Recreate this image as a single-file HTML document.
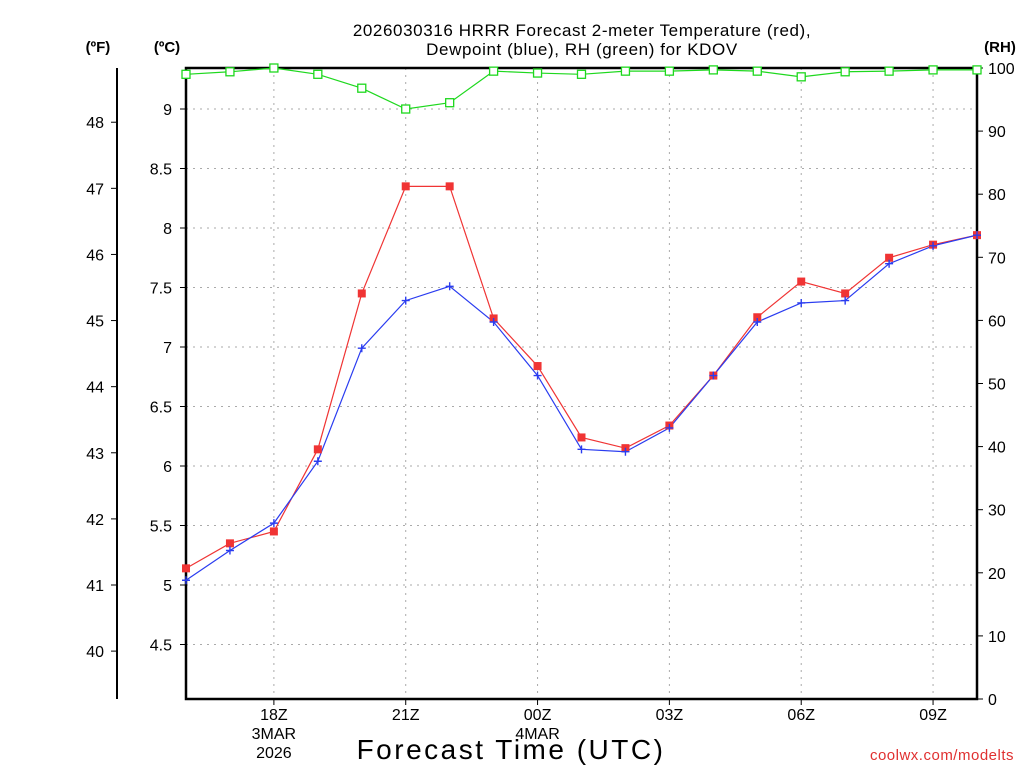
<!DOCTYPE html>
<html><head><meta charset="utf-8"><style>
body{margin:0;background:#fff;}
svg{display:block;font-family:"Liberation Sans",sans-serif;}
</style></head><body>
<svg id="chart" width="1024" height="768" xmlns="http://www.w3.org/2000/svg">
<text x="582" y="36" text-anchor="middle" font-size="17" letter-spacing="0.6" fill="#000">2026030316 HRRR Forecast 2-meter Temperature (red),</text>
<text x="582" y="55" text-anchor="middle" font-size="17" letter-spacing="0.6" fill="#000">Dewpoint (blue), RH (green) for KDOV</text>
<text x="98" y="52" text-anchor="middle" font-size="15" font-weight="bold">(ºF)</text>
<text x="167" y="52" text-anchor="middle" font-size="15" font-weight="bold">(ºC)</text>
<text x="1000" y="52" text-anchor="middle" font-size="15" font-weight="bold">(RH)</text>
<text x="511" y="759" text-anchor="middle" font-size="28" letter-spacing="2.5">Forecast Time (UTC)</text>
<text x="1014" y="760" text-anchor="end" font-size="15" fill="#e03030" letter-spacing="0.5">coolwx.com/modelts</text>
<g id="grid"></g><g id="axes"></g><g id="series"></g>
</svg>
<script>
const hours=["16","17","18","19","20","21","22","23","00","01","02","03","04","05","06","07","08","09","10"];
const temperatureC=[5.14,5.35,5.45,6.14,7.45,8.35,8.35,7.24,6.84,6.24,6.15,6.34,6.76,7.25,7.55,7.45,7.75,7.86,7.94];
const dewpointC=[5.04,5.29,5.52,6.04,6.99,7.39,7.51,7.21,6.76,6.14,6.12,6.32,6.76,7.21,7.37,7.39,7.70,7.85,7.94];
const rhValues=[99.0,99.4,100,99.0,96.8,93.5,94.5,99.5,99.2,99.0,99.5,99.5,99.7,99.5,98.6,99.4,99.5,99.7,99.7];
const cTicks=[4.5,5,5.5,6,6.5,7,7.5,8,8.5,9];
const fTicks=[40,41,42,43,44,45,46,47,48];
const rhTicks=[0,10,20,30,40,50,60,70,80,90,100];
const xTickLabels=[["18Z","3MAR","2026"],["21Z"],["00Z","4MAR"],["03Z"],["06Z"],["09Z"]];
const xTickIdx=[2,5,8,11,14,17];
const L=186,R=977,T=68,B=699;
const xS=i=>L+i*(R-L)/18;
const yC=c=>585-(c-5)*119;
const yF=f=>yC((f-32)/1.8);
const yRH=r=>B-r*(B-T)/100;
const NS="http://www.w3.org/2000/svg";
function mk(p,tag,at,txt){const e=document.createElementNS(NS,tag);for(const k in at)e.setAttribute(k,at[k]);if(txt!==undefined)e.textContent=txt;p.appendChild(e);return e;}
const grid=document.getElementById('grid'),axes=document.getElementById('axes'),ser=document.getElementById('series');
cTicks.forEach(c=>{const y=yC(c);
 const g=mk(grid,'line',{x1:L,x2:R,y1:y,y2:y,stroke:'#aaa','stroke-dasharray':'2,5'});
 
 mk(axes,'line',{x1:L-6,x2:L,y1:y,y2:y,stroke:'#000'});
 const t=mk(axes,'text',{x:L-14,y:y+6,'text-anchor':'end','font-size':16},String(c));
 });
fTicks.forEach(f=>{const y=yF(f);
 mk(axes,'line',{x1:111,x2:117,y1:y,y2:y,stroke:'#000'});
 const t=mk(axes,'text',{x:104,y:y+6,'text-anchor':'end','font-size':16},String(f));
 });
rhTicks.forEach(r=>{const y=yRH(r);
 mk(axes,'line',{x1:R,x2:R+6,y1:y,y2:y,stroke:'#000'});
 const t=mk(axes,'text',{x:R+11,y:y+6,'font-size':16},String(r));
 });
xTickIdx.forEach((i,k)=>{const x=xS(i);
 const g=mk(grid,'line',{x1:x,x2:x,y1:T,y2:B,stroke:'#aaa','stroke-dasharray':'2,5'});
 
 mk(axes,'line',{x1:x,x2:x,y1:B,y2:B+6,stroke:'#000'});
 xTickLabels[k].forEach((s,j)=>{const t=mk(axes,'text',{x:x,y:720+j*19,'text-anchor':'middle','font-size':16},s);
 });});
const fa=mk(axes,'line',{x1:117,x2:117,y1:T,y2:B,stroke:'#000','stroke-width':2});

const box=mk(axes,'rect',{x:L,y:T,width:R-L,height:B-T,fill:'none',stroke:'#000','stroke-width':2.5});

function line(vals,yf,col,name){const p=mk(ser,'polyline',{points:vals.map((v,i)=>xS(i)+','+yf(v)).join(' '),fill:'none',stroke:col,'stroke-width':1.2});
 }
line(rhValues,yRH,'#1ed81e','rh-line');
line(temperatureC,yC,'#f03434','temperature-line');
line(dewpointC,yC,'#2a3cf0','dewpoint-line');
rhValues.forEach((v,i)=>{const m=mk(ser,'rect',{x:xS(i)-4,y:yRH(v)-4,width:8,height:8,fill:'#fff',stroke:'#1ed81e','stroke-width':1.3});
 });
temperatureC.forEach((v,i)=>{const m=mk(ser,'rect',{x:xS(i)-4,y:yC(v)-4,width:8,height:8,fill:'#f03434'});
 });
dewpointC.forEach((v,i)=>{const x=xS(i),y=yC(v);const m=mk(ser,'path',{d:`M${x-4},${y}H${x+4}M${x},${y-4}V${y+4}`,stroke:'#2a3cf0','stroke-width':1.4});
 });
</script>
</body></html>
